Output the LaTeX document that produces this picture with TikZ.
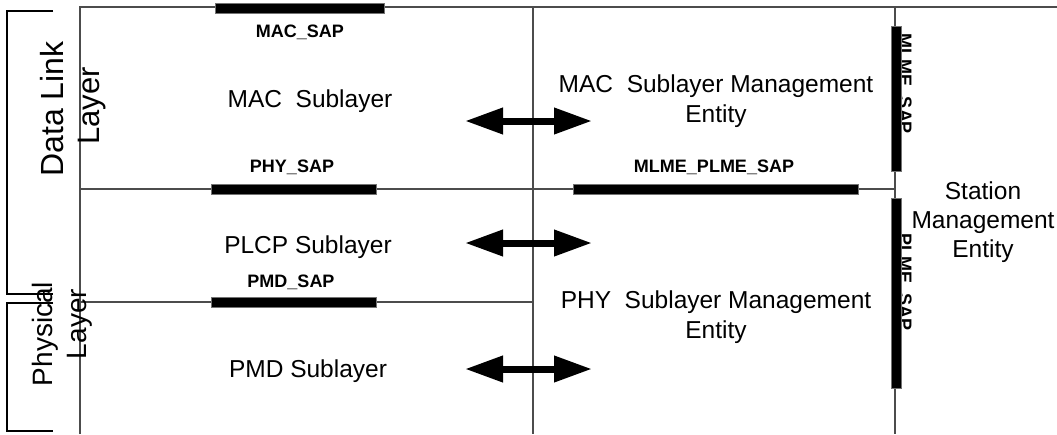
\documentclass[tikz,border=0pt]{standalone}
\usepackage{fontspec}
\setmainfont{Liberation Sans}
\usetikzlibrary{arrows.meta}

\begin{document}
\begin{tikzpicture}[
      x=1pt, y=-1pt,
      every node/.style={inner sep=0pt},
      gridline/.style={draw=black!70, line width=1.2pt},
      sapbar/.style={fill=black, draw=black!55, line width=0.6pt, minimum height=10pt},
      saplabel/.style={font=\fontsize{18}{20}\selectfont\bfseries, anchor=base},
      bigtext/.style={font=\fontsize{24.5}{30}\selectfont, anchor=base, align=center},
      sidetext/.style={rotate=90},
      bracket/.style={draw=black, line width=1.5pt},
      dblarrow/.style={line width=7pt, {Triangle[length=38pt,width=25pt]}-{Triangle[length=38pt,width=25pt]}}
    ]
      \useasboundingbox[fill=white] (0,0) rectangle (1057,434);

      % frame of the sublayers
      \draw[gridline] (80,434) -- (80,7) -- (1057,7);
      \draw[gridline] (533,7) -- (533,434);
      \draw[gridline] (895,7) -- (895,434);
      \draw[gridline] (80,189) -- (895,189);
      \draw[gridline] (80,302) -- (533,302);

      % brackets on the left
      \draw[bracket] (53,11) -- (7,11) -- (7,294) -- (53,294);
      \draw[bracket] (53,303) -- (7,303) -- (7,431) -- (53,431);
      \node[sidetext, font=\fontsize{32}{34}\selectfont] (dll) at (52,109) {Data Link};
      \node[sidetext, font=\fontsize{31}{34}\selectfont] (dlllayer) at (92,106) {Layer};
      \node[sidetext, font=\fontsize{28}{30}\selectfont] (phl) at (45,334) {Physical};
      \node[sidetext, font=\fontsize{28}{30}\selectfont] (phllayer) at (80,324) {Layer};

      % service access points
      \node[sapbar, minimum width=169pt] (macsap) at (299.5,8) {};
      \node[sapbar, minimum width=165pt] (physap) at (293.5,189) {};
      \node[sapbar, minimum width=285pt] (mlmeplmesap) at (715.5,189) {};
      \node[sapbar, minimum width=165pt] (pmdsap) at (293.5,302) {};
      \node[saplabel, rotate=-90] (mlmesaplbl) at (899,84) {MLME\_SAP};
      \node[saplabel, rotate=-90] (plmesaplbl) at (899,282) {PLME\_SAP};
      \node[sapbar, minimum width=10pt, minimum height=145pt] (mlmesap) at (896,98.5) {};
      \node[sapbar, minimum width=10pt, minimum height=190pt] (plmesap) at (896,293) {};

      \node[saplabel] (macsaplbl) at (300,37) {MAC\_SAP};
      \node[saplabel] (physaplbl) at (292,172) {PHY\_SAP};
      \node[saplabel] (mlmeplmelbl) at (714,172) {MLME\_PLME\_SAP};
      \node[saplabel] (pmdsaplbl) at (291,287) {PMD\_SAP};

      % sublayers and management entities (base = last line)
      \node[bigtext] (mac) at (310,107) {MAC\ \ Sublayer};
      \node[bigtext] (plcp) at (308,253) {PLCP Sublayer};
      \node[bigtext] (pmd) at (308,377) {PMD Sublayer};
      \node[bigtext] (macme) at (716,122) {MAC\ \ Sublayer Management\\Entity};
      \node[bigtext] (phyme) at (716,338) {PHY\ \ Sublayer Management\\Entity};
      \node[bigtext, font=\fontsize{24.5}{29}\selectfont] (sme) at (983,257) {Station\\Management\\Entity};

      % arrows between sublayer and its management entity
      \coordinate (macl) at (465,121);
      \coordinate (macr) at (592,121);
      \coordinate (plcpl) at (465,243);
      \coordinate (plcpr) at (592,243);
      \coordinate (pmdl) at (465,369);
      \coordinate (pmdr) at (592,369);
      \draw[dblarrow] (macl) -- (macr);
      \draw[dblarrow] (plcpl) -- (plcpr);
      \draw[dblarrow] (pmdl) -- (pmdr);
    \end{tikzpicture}
\end{document}
